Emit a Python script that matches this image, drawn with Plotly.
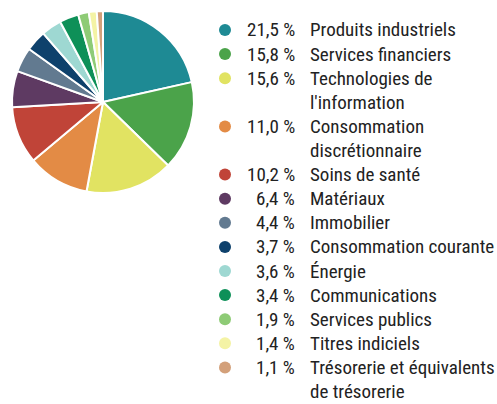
import plotly.graph_objects as go

categories = [
    "Produits industriels",
    "Services financiers",
    "Technologies de<br>l'information",
    "Consommation<br>discrétionnaire",
    "Soins de santé",
    "Matériaux",
    "Immobilier",
    "Consommation courante",
    "Énergie",
    "Communications",
    "Services publics",
    "Titres indiciels",
    "Trésorerie et équivalents<br>de trésorerie",
]
values = [21.5, 15.8, 15.6, 11.0, 10.2, 6.4, 4.4, 3.7, 3.6, 3.4, 1.9, 1.4, 1.1]
colors = [
    "#1E8A94", "#4BA34A", "#E1E362", "#E38B45", "#C04438", "#5E3A62",
    "#627A90", "#0E416C", "#9ED8D2", "#0E9058", "#8ECB76", "#F4F3A5", "#D3A07A",
]

W, H = 497, 404
FONT = "Roboto Condensed"
FS = 19
TXT = "#222222"

fig = go.Figure()
fig.add_trace(go.Pie(
    values=values,
    labels=[c.replace("<br>", " ") for c in categories],
    marker=dict(colors=colors, line=dict(color="white", width=2)),
    sort=False,
    direction="clockwise",
    rotation=0,
    textinfo="none",
    hoverinfo="label+percent",
    domain=dict(x=[12 / W, 194 / W], y=[1 - 193 / H, 1 - 11 / H]),
    showlegend=False,
))

annotations = []
shapes = []
y0, step = 30.0, 24.1
line = 0
for cat, v, col in zip(categories, values, colors):
    yc = y0 + step * line
    py = 1 - yc / H
    shapes.append(dict(
        type="circle", xref="paper", yref="paper",
        x0=219 / W, x1=231 / W, y0=1 - (yc + 6) / H, y1=1 - (yc - 6) / H,
        fillcolor=col, line=dict(width=0),
    ))
    pct = f"{v:.1f}".replace(".", ",") + " %"
    annotations.append(dict(
        text=pct, xref="paper", yref="paper", x=296 / W, y=py,
        xanchor="right", yanchor="middle", showarrow=False, borderpad=0,
        font=dict(family=FONT, size=FS, color=TXT),
    ))
    for part in cat.split("<br>"):
        yc = y0 + step * line
        annotations.append(dict(
            text=part, xref="paper", yref="paper", x=309 / W, y=1 - yc / H,
            xanchor="left", yanchor="middle", showarrow=False, borderpad=0,
            font=dict(family=FONT, size=FS, color=TXT),
        ))
        line += 1

fig.update_layout(
    width=W, height=H,
    margin=dict(l=0, r=0, t=0, b=0),
    paper_bgcolor="white", plot_bgcolor="white",
    annotations=annotations, shapes=shapes,
)
fig.write_html("out.html", config={"displayModeBar": False},
               post_script="document.body.style.margin='0';")
